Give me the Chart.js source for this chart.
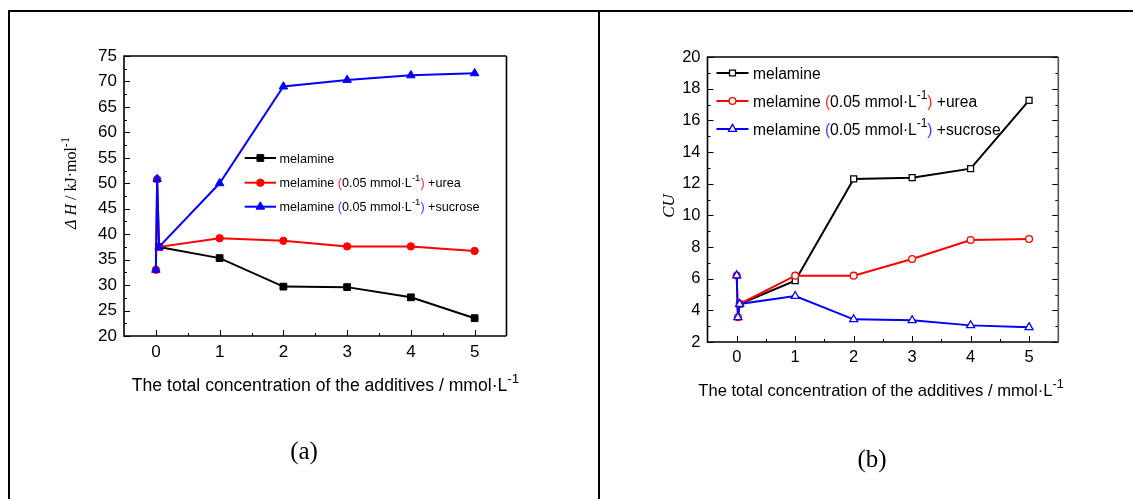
<!DOCTYPE html>
<html><head><meta charset="utf-8">
<script src="https://cdn.jsdelivr.net/npm/chart.js@4/dist/chart.umd.min.js"></script>
<style>
html,body{margin:0;padding:0;background:#fff;width:1133px;height:499px;overflow:hidden;}
.ln{position:absolute;background:#000;}
#ca{position:absolute;left:10px;top:13px;}
#cb{position:absolute;left:602px;top:13px;}
</style></head>
<body>
<div class="ln" style="left:8px;top:10px;width:1125px;height:2px;"></div>
<div class="ln" style="left:8px;top:10px;width:2px;height:489px;"></div>
<div class="ln" style="left:598px;top:10px;width:2px;height:489px;"></div>
<canvas id="ca" width="580" height="486"></canvas>
<canvas id="cb" width="531" height="486"></canvas>
<script>
// ---------- data ----------
const xTicks = [0, 1, 2, 3, 4, 5];
const xLow = [0, 0.02, 0.05, 1, 2, 3, 4, 5];
const xMel = [0.05, 1, 2, 3, 4, 5];

// panel (a): ΔH / kJ·mol-1
const aYTicks = [20, 25, 30, 35, 40, 45, 50, 55, 60, 65, 70, 75];
const aMelamine = [37.5, 35.3, 29.7, 29.6, 27.6, 23.5];
const aUrea = [33.0, 50.8, 37.5, 39.2, 38.7, 37.6, 37.6, 36.7];
const aSucrose = [33.0, 50.8, 37.5, 50.0, 69.0, 70.3, 71.2, 71.6];

// panel (b): CU
const bYTicks = [2, 4, 6, 8, 10, 12, 14, 16, 18, 20];
const bMelamine = [4.4, 5.87, 12.3, 12.38, 12.95, 17.26];
const bUrea = [6.2, 3.56, 4.4, 6.19, 6.19, 7.24, 8.44, 8.51];
const bSucrose = [6.2, 3.56, 4.4, 4.9, 3.43, 3.37, 3.05, 2.93];

const seriesNames = ['melamine', 'melamine (0.05 mmol·L-1) +urea', 'melamine (0.05 mmol·L-1) +sucrose'];
const xTitle = 'The total concentration of the additives / mmol·L';

// ---------- helpers ----------
const SANS = "'Liberation Sans', Arial, sans-serif";
const SERIF = "'Liberation Serif', 'Times New Roman', serif";
const pts = (xs, ys) => ys.map((v, i) => ({x: xs[i], y: v}));

function drawRich(ctx, x, y, segs, size, family) {
  for (const s of segs) {
    const fs = s.sup ? size * 0.76 : size;
    ctx.font = (s.italic ? 'italic ' : '') + fs + 'px ' + (s.family || family);
    ctx.fillStyle = s.color || '#000';
    ctx.fillText(s.t, x, s.sup ? y - size * 0.46 : y);
    x += ctx.measureText(s.t).width;
  }
  return x;
}
function richWidth(ctx, segs, size, family) {
  let w = 0;
  for (const s of segs) {
    const fs = s.sup ? size * 0.76 : size;
    ctx.font = (s.italic ? 'italic ' : '') + fs + 'px ' + (s.family || family);
    w += ctx.measureText(s.t).width;
  }
  return w;
}
function marker(ctx, style, x, y, r) {
  ctx.beginPath();
  if (style === 'rect') {
    const s = Math.SQRT1_2 * r;
    ctx.rect(x - s, y - s, 2 * s, 2 * s);
  } else if (style === 'circle') {
    ctx.arc(x, y, r, 0, Math.PI * 2);
  } else {
    let rad = 0;
    ctx.moveTo(x + Math.sin(rad) * r, y - Math.cos(rad) * r);
    rad += Math.PI * 2 / 3;
    ctx.lineTo(x + Math.sin(rad) * r, y - Math.cos(rad) * r);
    rad += Math.PI * 2 / 3;
    ctx.lineTo(x + Math.sin(rad) * r, y - Math.cos(rad) * r);
    ctx.closePath();
  }
  ctx.fill();
  ctx.stroke();
}

function legendSegs(i, parenColor) {
  if (i === 0) return [{t: 'melamine'}];
  const parts = seriesNames[i].match(/^(melamine )\((.*)(-1)\)(.*)$/);
  return [{t: parts[1]}, {t: '(', color: parenColor}, {t: parts[2]}, {t: parts[3], sup: true},
          {t: ')', color: parenColor}, {t: parts[4]}];
}

const framePlugin = {
  id: 'frameTicks',
  beforeDatasetsDraw(chart, args, o) {
    const {ctx, chartArea: a, scales: {x, y}} = chart;
    ctx.save();
    ctx.strokeStyle = '#000';
    ctx.lineWidth = 1;
    const yt = o.yTicks;
    const xs = [];
    xTicks.forEach((v, i) => { xs.push([v, 6]); if (i < xTicks.length - 1) xs.push([(v + xTicks[i + 1]) / 2, 3]); });
    ctx.beginPath();
    for (const [v, len] of xs) {
      const px = Math.round(x.getPixelForValue(v)) + 0.5;
      ctx.moveTo(px, a.bottom); ctx.lineTo(px, a.bottom - len);
    }
    const ys = [];
    yt.forEach((v, i) => { ys.push([v, 6]); if (i < yt.length - 1) ys.push([(v + yt[i + 1]) / 2, 3]); });
    for (const [v, len] of ys) {
      const py = Math.round(y.getPixelForValue(v)) + 0.5;
      ctx.moveTo(a.left, py); ctx.lineTo(a.left + len, py);
      if (o.rightTicks) { ctx.moveTo(a.right, py); ctx.lineTo(a.right - len, py); }
    }
    ctx.stroke();
    ctx.lineWidth = 1.6;
    ctx.strokeStyle = '#000';
    ctx.beginPath();
    ctx.moveTo(a.right, a.top); ctx.lineTo(a.left, a.top); ctx.lineTo(a.left, a.bottom); ctx.lineTo(a.right, a.bottom);
    ctx.stroke();
    ctx.strokeStyle = o.rightColor || '#000';
    ctx.beginPath(); ctx.moveTo(a.right, a.top); ctx.lineTo(a.right, a.bottom); ctx.stroke();
    ctx.restore();
  },
  afterDraw(chart, args, o) {
    const ctx = chart.ctx;
    ctx.save();
    ctx.textBaseline = 'alphabetic';
    // legend
    const L = o.legend;
    chart.data.datasets.forEach((ds, i) => {
      const yy = L.rows[i];
      ctx.strokeStyle = ds.borderColor; ctx.lineWidth = 2;
      ctx.beginPath(); ctx.moveTo(L.x1, yy); ctx.lineTo(L.x2, yy); ctx.stroke();
      ctx.fillStyle = ds.pointBackgroundColor; ctx.strokeStyle = ds.pointBorderColor; ctx.lineWidth = ds.pointBorderWidth;
      marker(ctx, ds.pointStyle, (L.x1 + L.x2) / 2, yy, ds.pointRadius);
      drawRich(ctx, L.tx, yy + L.size * 0.36, legendSegs(i, ds.parenColor), L.size, SANS);
    });
    // x title
    const xt = [{t: xTitle}, {t: '-1', sup: true}];
    const xw = richWidth(ctx, xt, o.xTitle.size, SANS);
    drawRich(ctx, o.xTitle.cx - xw / 2, o.xTitle.y, xt, o.xTitle.size, SANS);
    // y title
    ctx.save();
    ctx.translate(o.yTitle.x, o.yTitle.y);
    ctx.rotate(-Math.PI / 2);
    const yw = richWidth(ctx, o.yTitle.segs, o.yTitle.size, SERIF);
    drawRich(ctx, -yw / 2, 0, o.yTitle.segs, o.yTitle.size, SERIF);
    ctx.restore();
    // panel label
    ctx.font = o.panel.size + 'px ' + SERIF;
    ctx.fillStyle = '#000';
    ctx.textAlign = 'center';
    ctx.textBaseline = 'middle';
    ctx.fillText(o.panel.t, o.panel.x, o.panel.y);
    ctx.restore();
  }
};

function makeDatasets(mel, urea, suc, open) {
  const mk = (label, xs, ys, color, style, r, order, paren) => ({
    label, data: pts(xs, ys), showLine: true, order,
    borderColor: color, borderWidth: 2, backgroundColor: color,
    pointStyle: style, pointRadius: r, pointHoverRadius: r,
    pointBackgroundColor: open ? '#fff' : color, pointBorderColor: color,
    pointBorderWidth: open ? 1.3 : 1, parenColor: paren
  });
  return [
    mk(seriesNames[0], xMel, mel, '#000000', 'rect', open ? 4.2 : 4.8, 2, '#000'),
    mk(seriesNames[1], xLow, urea, '#ff0000', 'circle', open ? 3.4 : 3.7, 1, '#ff2a2a'),
    mk(seriesNames[2], xLow, suc, '#0000ff', 'triangle', open ? 4.6 : 4.9, 0, '#3a3aff')
  ];
}

function makeChart(id, datasets, yMin, yMax, yTicks, tickSize, pad, frameOpts) {
  return new Chart(document.getElementById(id), {
    type: 'scatter',
    data: {datasets},
    options: {
      responsive: false, animation: false, events: [], devicePixelRatio: 1,
      layout: {padding: pad},
      plugins: {legend: {display: false}, tooltip: {enabled: false}, frameTicks: frameOpts},
      scales: {
        x: {
          type: 'linear', min: -0.5, max: 5.5,
          afterBuildTicks: s => { s.ticks = xTicks.map(v => ({value: v})); },
          afterFit: s => { s.height = 30; },
          grid: {display: false, drawTicks: false}, border: {display: false},
          ticks: {padding: 6, color: '#000', maxRotation: 0, autoSkip: false, font: {family: SANS, size: tickSize}}
        },
        y: {
          type: 'linear', min: yMin, max: yMax,
          afterBuildTicks: s => { s.ticks = yTicks.map(v => ({value: v})); },
          afterFit: s => { s.width = 40; },
          grid: {display: false, drawTicks: false}, border: {display: false},
          ticks: {padding: 7, color: '#000', autoSkip: false, font: {family: SANS, size: tickSize}}
        }
      }
    },
    plugins: [framePlugin]
  });
}

makeChart('ca', makeDatasets(aMelamine, aUrea, aSucrose, false), 20, 75, aYTicks, 17,
  {left: 74, right: 83.5, top: 43, bottom: 133},
  {
    yTicks: aYTicks, rightTicks: false,
    legend: {rows: [145, 169.7, 193.7], x1: 234.7, x2: 266, tx: 269.6, size: 12.6},
    xTitle: {cx: 315.5, y: 378, size: 17.6},
    yTitle: {x: 66, y: 170, size: 16, segs: [{t: 'Δ', italic: true}, {t: ' '}, {t: 'H', italic: true}, {t: ' / kJ·mol'}, {t: '-1', sup: true}]},
    panel: {t: '(a)', x: 294, y: 439, size: 25}
  });

makeChart('cb', makeDatasets(bMelamine, bUrea, bSucrose, true), 2, 20, bYTicks, 16.5,
  {left: 65.5, right: 74.7, top: 44, bottom: 127},
  {
    yTicks: bYTicks, rightTicks: true, rightColor: '#555',
    legend: {rows: [60, 88, 116], x1: 114.5, x2: 146.5, tx: 151, size: 15.6},
    xTitle: {cx: 279, y: 383, size: 16.6},
    yTitle: {x: 72, y: 193, size: 17, segs: [{t: 'CU', italic: true}]},
    panel: {t: '(b)', x: 270, y: 447, size: 25}
  });
</script>
</body></html>
